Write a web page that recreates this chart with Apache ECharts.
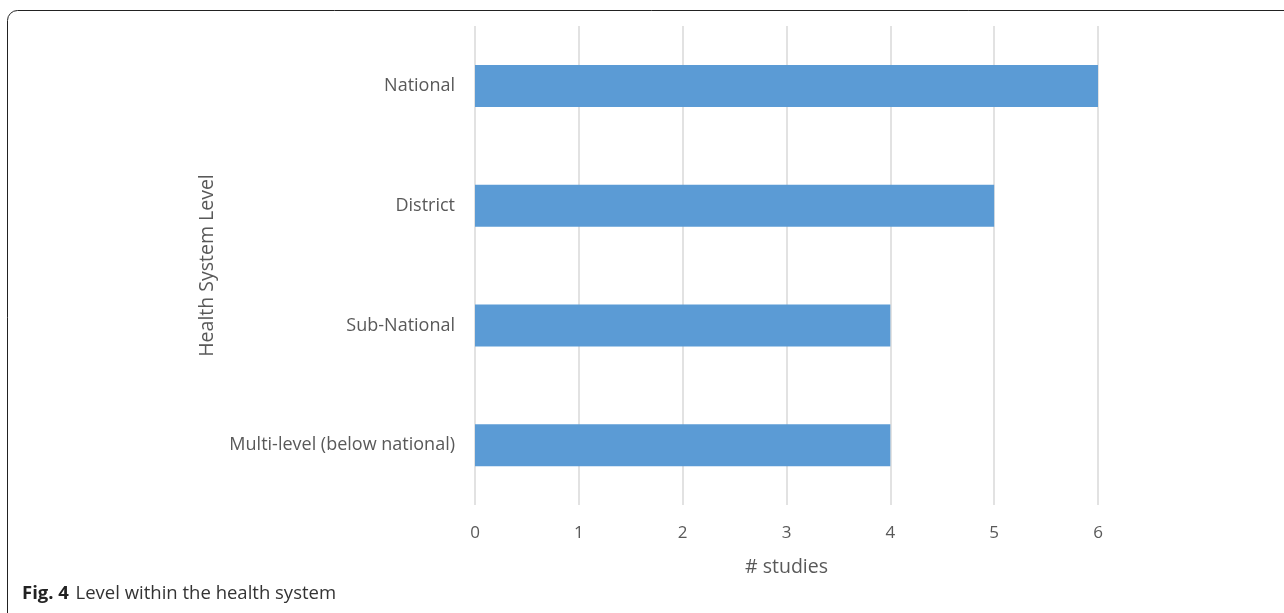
<!DOCTYPE html>
<html>
<head>
<meta charset="utf-8">
<script src="https://cdn.jsdelivr.net/npm/echarts@6/dist/echarts.min.js"></script>
<style>
  html, body { margin: 0; padding: 0; background: #fff; }
  #chart { width: 1284px; height: 613px; }
</style>
</head>
<body>
<div id="chart"></div>
<script>
// data
const levels = ['National', 'District', 'Sub-National', 'Multi-level (below national)']
const studies = [6, 5, 4, 4]
const xTicks = [0, 1, 2, 3, 4, 5, 6]

const font = '"Open Sans", "Noto Sans", sans-serif'
const chart = echarts.init(document.getElementById('chart'))

chart.setOption({
  animation: false,
  textStyle: { fontFamily: font },
  grid: { left: 475, right: 186, top: 26, bottom: 108, containLabel: false },
  xAxis: {
    type: 'value',
    min: xTicks[0],
    max: xTicks[xTicks.length - 1],
    interval: 1,
    name: '# studies',
    nameLocation: 'middle',
    nameGap: 52,
    nameTextStyle: { fontSize: 19.5, color: '#595959', fontFamily: font },
    axisLine: { show: false },
    axisTick: { show: false },
    axisLabel: { fontSize: 17, color: '#595959', margin: 20, fontFamily: font },
    splitLine: { lineStyle: { color: '#d9d9d9', width: 1.5 } }
  },
  yAxis: {
    type: 'category',
    data: levels,
    inverse: true,
    name: 'Health System Level',
    nameLocation: 'middle',
    nameGap: 258,
    nameTextStyle: { fontSize: 19.5, color: '#595959', fontFamily: font },
    axisLine: { show: false },
    axisTick: { show: false },
    axisLabel: { fontSize: 18, color: '#595959', margin: 20, padding: [4, 0, 0, 0], fontFamily: font },
    splitLine: { show: false }
  },
  series: [{
    type: 'bar',
    data: studies,
    barWidth: 42,
    itemStyle: { color: '#5b9bd5' }
  }],
  graphic: [
    {
      // figure frame
      type: 'rect',
      shape: { x: 7.5, y: 10.5, width: 1290, height: 620, r: 10 },
      style: { fill: 'none', stroke: '#222', lineWidth: 1 },
      silent: true
    },
    {
      type: 'text',
      left: 22,
      top: 584,
      style: {
        text: '{b|Fig. 4}  {n|Level within the health system}',
        rich: {
          b: { fontSize: 18.5, fontWeight: 'bold', fill: '#222', fontFamily: font },
          n: { fontSize: 18.5, fill: '#333', fontFamily: font }
        }
      }
    }
  ]
})
</script>
</body>
</html>
